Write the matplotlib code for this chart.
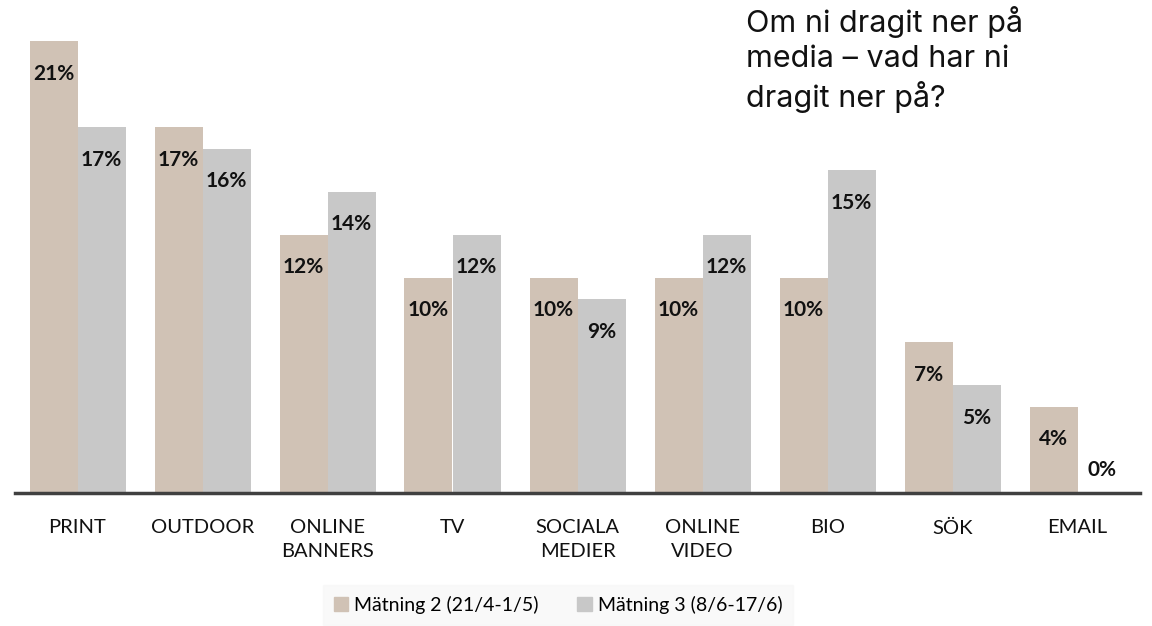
import numpy as np
import matplotlib.pyplot as plt
from matplotlib.patches import Patch

categories = ["PRINT", "OUTDOOR", "ONLINE\nBANNERS", "TV", "SOCIALA\nMEDIER",
              "ONLINE\nVIDEO", "BIO", "SÖK", "EMAIL"]
matning2 = [21, 17, 12, 10, 10, 10, 10, 7, 4]
matning3 = [17, 16, 14, 12, 9, 12, 15, 5, 0]
series_names = ["Mätning 2 (21/4-1/5)", "Mätning 3 (8/6-17/6)"]

c_tan = "#D0C2B5"
c_gray = "#C8C8C8"

plt.rcParams['font.family'] = ['Lato', 'DejaVu Sans']

fig = plt.figure(figsize=(11.52, 6.26), dpi=100)
ax = fig.add_axes([15 / 1152, 1 - 493 / 626, 1125 / 1152, 493 / 626])

x = np.arange(len(categories))
w = 0.384
ax.bar(x - w / 2, matning2, w, color=c_tan, zorder=2)
ax.bar(x + w / 2, matning3, w, color=c_gray, zorder=2)

ax.set_xlim(-0.5, len(categories) - 0.5)
ax.set_ylim(0, 22.93)

# value labels just inside the top of each bar
for xs, vals in ((x - w / 2, matning2), (x + w / 2, matning3)):
    for xi, v in zip(xs, vals):
        ax.text(xi, max(v - 1.5, 1.07), f"{v}%", ha="center", va="center",
                fontsize=15, fontweight="bold", color="#111111")

for s in ["top", "right", "left"]:
    ax.spines[s].set_visible(False)
ax.spines["bottom"].set_color("#404040")
ax.spines["bottom"].set_linewidth(2.5)
ax.set_yticks([])
ax.set_xticks(x)
ax.set_xticklabels(categories, fontsize=14.5, color="#111111", linespacing=1.5)
ax.tick_params(axis="x", length=0, pad=19)

fig.text(746 / 1152, 1 - 6 / 626, "Om ni dragit ner på\nmedia – vad har ni\ndragit ner på?",
         ha="left", va="top", fontsize=22, family=["Inter", "DejaVu Sans"],
         linespacing=1.32, color="#111111")

handles = [Patch(color=c_tan), Patch(color=c_gray)]
leg = fig.legend(handles, series_names, loc="center", bbox_to_anchor=(558 / 1152, 1 - 605 / 626),
                 ncol=2, frameon=True, fontsize=14, handlelength=0.75, handleheight=0.75,
                 handletextpad=0.3, columnspacing=2.0, borderpad=0.55, fancybox=False)
leg.get_frame().set_facecolor("#F8F8F8")
leg.get_frame().set_edgecolor("#F8F8F8")

plt.savefig("out.png", dpi=100)
